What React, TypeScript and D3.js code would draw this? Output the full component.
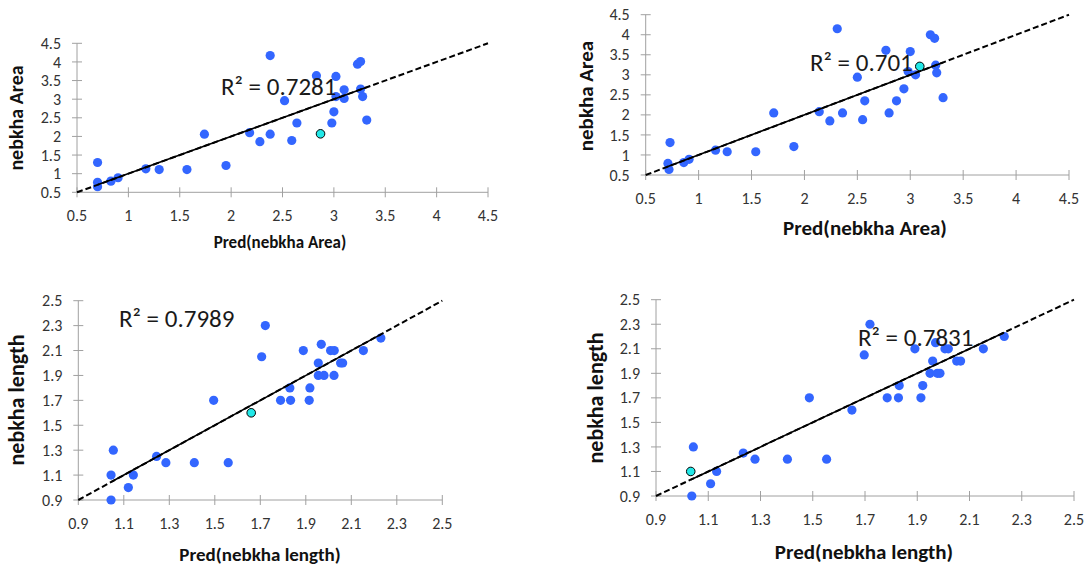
import React from 'react';
import { scaleLinear } from 'd3';

// ---- data ----
const areaTicks = [0.5, 1, 1.5, 2, 2.5, 3, 3.5, 4, 4.5];
const lengthTicks = [0.9, 1.1, 1.3, 1.5, 1.7, 1.9, 2.1, 2.3, 2.5];

// panel 1: Pred(nebkha Area) vs nebkha Area, R² = 0.7281
const area1Pred = [0.70, 0.70, 0.70, 0.83, 0.90, 1.17, 1.30, 1.57, 1.74, 1.95, 2.18, 2.28, 2.38, 2.38, 2.52, 2.59, 2.64, 2.83, 2.87, 2.98, 3.00, 3.02, 3.02, 3.10, 3.10, 3.23, 3.26, 3.26, 3.28, 3.32];
const area1Obs = [1.30, 0.77, 0.65, 0.80, 0.89, 1.13, 1.11, 1.11, 2.06, 1.22, 2.10, 1.86, 4.17, 2.06, 2.96, 1.89, 2.36, 3.63, 2.07, 2.36, 2.66, 3.61, 3.07, 3.25, 3.02, 3.94, 4.01, 3.27, 3.07, 2.44];
const area1Highlight = 18;

// panel 2: Pred(nebkha Area) vs nebkha Area, R² = 0.701
const area2Pred = [0.73, 0.71, 0.72, 0.86, 0.91, 1.16, 1.27, 1.54, 1.71, 1.90, 2.14, 2.24, 2.31, 2.36, 2.50, 2.55, 2.57, 2.77, 2.80, 2.87, 2.94, 3.00, 2.98, 3.05, 3.09, 3.19, 3.23, 3.24, 3.25, 3.31];
const area2Obs = [1.31, 0.79, 0.64, 0.81, 0.89, 1.12, 1.08, 1.08, 2.05, 1.21, 2.08, 1.85, 4.15, 2.05, 2.94, 1.88, 2.35, 3.61, 2.05, 2.35, 2.65, 3.58, 3.08, 3.00, 3.21, 4.00, 3.91, 3.24, 3.05, 2.43];
const area2Highlight = 24;

// panel 3: Pred(nebkha length) vs nebkha length, R² = 0.7989
const len1Pred = [1.044, 1.044, 1.054, 1.12, 1.142, 1.244, 1.285, 1.41, 1.495, 1.559, 1.66, 1.706, 1.722, 1.789, 1.83, 1.833, 1.889, 1.915, 1.918, 1.955, 1.955, 1.968, 1.98, 2.009, 2.025, 2.024, 2.053, 2.062, 2.153, 2.23];
const len1Obs = [0.9, 1.1, 1.3, 1.0, 1.1, 1.25, 1.2, 1.2, 1.7, 1.2, 1.6, 2.05, 2.3, 1.7, 1.8, 1.7, 2.1, 1.7, 1.8, 2.0, 1.9, 2.15, 1.9, 2.1, 2.1, 1.9, 2.0, 2.0, 2.1, 2.2];
const len1Highlight = 10;

// panel 4: Pred(nebkha length) vs nebkha length, R² = 0.7831
const len2Pred = [1.037, 1.033, 1.043, 1.109, 1.132, 1.234, 1.279, 1.403, 1.487, 1.553, 1.65, 1.697, 1.719, 1.785, 1.828, 1.831, 1.891, 1.914, 1.921, 1.949, 1.959, 1.97, 1.977, 2.006, 2.019, 1.987, 2.051, 2.066, 2.153, 2.233];
const len2Obs = [0.9, 1.1, 1.3, 1.0, 1.1, 1.25, 1.2, 1.2, 1.7, 1.2, 1.6, 2.05, 2.3, 1.7, 1.7, 1.8, 2.1, 1.7, 1.8, 1.9, 2.0, 2.15, 1.9, 2.1, 2.1, 1.9, 2.0, 2.0, 2.1, 2.2];
const len2Highlight = 1;

const FONT = 'Carlito, Calibri, Lato, sans-serif';
const AXIS_GRAY = '#a0a0a0';
const DOT_BLUE = '#3366ff';

type PanelProps = {
  pred: number[];
  obs: number[];
  highlight: number;
  ticks: number[];
  r2: string;
  xTitle: string;
  yTitle: string;
  left: number;
  right: number;
  top: number;
  bottom: number;
  tickSize: number;
  r2Pos: [number, number];
  r2Size: number;
  xTitlePos: [number, number];
  xTitleSize: number;
  yTitlePos: [number, number];
  yTitleSize: number;
};

const Panel = (p: PanelProps) => {
  const lo = p.ticks[0];
  const hi = p.ticks[p.ticks.length - 1];
  const x = scaleLinear().domain([lo, hi]).range([p.left, p.right]);
  const y = scaleLinear().domain([lo, hi]).range([p.bottom, p.top]);
  const minX = Math.min(...p.pred);
  const maxX = Math.max(...p.pred);
  return (
    <g>
      {/* axes */}
      <line x1={x(lo)} x2={x(hi)} y1={y(lo)} y2={y(lo)} stroke={AXIS_GRAY} />
      <line x1={x(lo)} x2={x(lo)} y1={y(lo)} y2={y(hi)} stroke={AXIS_GRAY} />
      {p.ticks.map((t) => (
        <g key={'x' + t}>
          <line x1={x(t)} x2={x(t)} y1={y(lo) - 5} y2={y(lo) + 5} stroke={AXIS_GRAY} />
          <text
            x={x(t)}
            y={y(lo) + 29}
            textAnchor="middle"
            fontSize={p.tickSize}
            fill="#333"
            fontFamily={FONT}
          >
            {t}
          </text>
        </g>
      ))}
      {p.ticks.map((t) => (
        <g key={'y' + t}>
          <line x1={x(lo) - 5} x2={x(lo) + 5} y1={y(t)} y2={y(t)} stroke={AXIS_GRAY} />
          <text
            x={x(lo) - 16}
            y={y(t)}
            dy="0.35em"
            textAnchor="end"
            fontSize={p.tickSize}
            fill="#333"
            fontFamily={FONT}
          >
            {t}
          </text>
        </g>
      ))}
      {/* points */}
      {p.pred.map((d, i) =>
        i === p.highlight ? null : (
          <circle key={i} cx={x(d)} cy={y(p.obs[i])} r={4.6} fill={DOT_BLUE} />
        )
      )}
      {/* 1:1 line dashed, fit over data range solid */}
      <line
        x1={x(lo)}
        y1={y(lo)}
        x2={x(hi)}
        y2={y(hi)}
        stroke="#000"
        strokeWidth={2}
        strokeDasharray="6,3"
      />
      <line x1={x(minX)} y1={y(minX)} x2={x(maxX)} y2={y(maxX)} stroke="#000" strokeWidth={1.6} />
      <circle
        cx={x(p.pred[p.highlight])}
        cy={y(p.obs[p.highlight])}
        r={4.3}
        fill="#22e8e8"
        stroke="#000"
        strokeWidth={1}
      />
      <text
        x={p.r2Pos[0]}
        y={p.r2Pos[1]}
        fontSize={p.r2Size}
        fill="#1a1a1a"
        fontFamily={FONT}
      >
        {p.r2}
      </text>
      <text
        x={p.xTitlePos[0]}
        y={p.xTitlePos[1]}
        textAnchor="middle"
        fontSize={p.xTitleSize}
        fontWeight="bold"
        fill="#111"
        fontFamily={FONT}
      >
        {p.xTitle}
      </text>
      <text
        transform={`translate(${p.yTitlePos[0]},${p.yTitlePos[1]}) rotate(-90)`}
        textAnchor="middle"
        fontSize={p.yTitleSize}
        fontWeight="bold"
        fill="#111"
        fontFamily={FONT}
      >
        {p.yTitle}
      </text>
    </g>
  );
};

export default function App() {
  return (
    <svg
      width={1086}
      height={569}
      style={{ position: 'absolute', left: 0, top: 0, background: '#fff' }}
    >
      <Panel
        pred={area1Pred}
        obs={area1Obs}
        highlight={area1Highlight}
        ticks={areaTicks}
        r2="R² = 0.7281"
        xTitle="Pred(nebkha Area)"
        yTitle="nebkha Area"
        left={77}
        right={488}
        top={43.3}
        bottom={192.3}
        tickSize={16}
        r2Pos={[221, 95]}
        r2Size={25}
        xTitlePos={[280, 248]}
        xTitleSize={17}
        yTitlePos={[23, 118]}
        yTitleSize={20}
      />
      <Panel
        pred={area2Pred}
        obs={area2Obs}
        highlight={area2Highlight}
        ticks={areaTicks}
        r2="R² = 0.701"
        xTitle="Pred(nebkha Area)"
        yTitle="nebkha Area"
        left={645.7}
        right={1069}
        top={14.7}
        bottom={175}
        tickSize={16}
        r2Pos={[810, 71]}
        r2Size={25}
        xTitlePos={[865, 235]}
        xTitleSize={21}
        yTitlePos={[593, 96]}
        yTitleSize={21}
      />
      <Panel
        pred={len1Pred}
        obs={len1Obs}
        highlight={len1Highlight}
        ticks={lengthTicks}
        r2="R² = 0.7989"
        xTitle="Pred(nebkha length)"
        yTitle="nebkha length"
        left={78.3}
        right={442.3}
        top={300.7}
        bottom={500}
        tickSize={16}
        r2Pos={[119, 327]}
        r2Size={25}
        xTitlePos={[260, 561]}
        xTitleSize={19}
        yTitlePos={[24, 400]}
        yTitleSize={22}
      />
      <Panel
        pred={len2Pred}
        obs={len2Obs}
        highlight={len2Highlight}
        ticks={lengthTicks}
        r2="R² = 0.7831"
        xTitle="Pred(nebkha length)"
        yTitle="nebkha length"
        left={656}
        right={1074}
        top={299.7}
        bottom={496}
        tickSize={16}
        r2Pos={[858, 346]}
        r2Size={25}
        xTitlePos={[864, 559]}
        xTitleSize={21}
        yTitlePos={[603, 398]}
        yTitleSize={22}
      />
    </svg>
  );
}
